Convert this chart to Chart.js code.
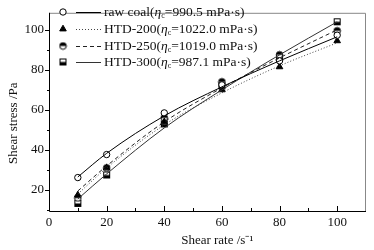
<!DOCTYPE html>
<html lang="en">
  <head>
    <meta charset="UTF-8" />
    <title>Shear stress vs shear rate</title>
    <script src="https://cdn.jsdelivr.net/npm/chart.js@4.4.0/dist/chart.umd.min.js"></script>
    <style>
      body { margin: 0; background: #fff; }
      .chart-container { position: relative; width: 374px; height: 250px; }
    </style>
  </head>
  <body>
    <div class="chart-container">
      <canvas id="myChart" width="374" height="250"></canvas>
    </div>
    <script>
      // measured points
      const shearRate = [10, 20, 40, 60, 80, 100];
      const rawCoal = [26.2, 37.7, 58.5, 72.5, 84.5, 97.3];
      const htd200 = [17.5, 31, 54, 70, 81.5, 94.5];
      const htd250 = [16, 31, 56, 74, 87.5, 99.5];
      const htd300 = [13.3, 27.5, 53, 72, 86, 104];

      // fitted curves
      const fitRaw = [26.5, 38.3, 57, 71.5, 84.5, 96.5];
      const fit200 = [18, 31, 52.5, 68.5, 82, 93.5];
      const fit250 = [19.5, 32, 54, 71, 86, 100];
      const fit300 = [15.5, 28, 51, 70, 87.5, 104];

      const xTicks = [0, 20, 40, 60, 80, 100];
      const yTicks = [20, 40, 60, 80, 100];

      const seriesNames = ["raw coal", "HTD-200", "HTD-250", "HTD-300"];
      const viscosity = ["990.5", "1022.0", "1019.0", "987.1"];

      const FONT = "Liberation Serif";
      const NB = "\u00A0";

      // half filled markers
      const makeMarker = (shape) => {
        const c = document.createElement("canvas");
        c.width = 9; c.height = 9;
        const g = c.getContext("2d");
        g.lineWidth = 1;
        g.strokeStyle = "#000";
        if (shape === "circle") {
          g.fillStyle = "#fff";
          g.beginPath(); g.arc(4.5, 4.5, 3.3, 0, Math.PI * 2); g.fill();
          g.fillStyle = "#000";
          g.beginPath(); g.arc(4.5, 4.5, 3.3, Math.PI, 0); g.fill();
          g.beginPath(); g.arc(4.5, 4.5, 3.3, 0, Math.PI * 2); g.stroke();
        } else {
          g.fillStyle = "#fff";
          g.fillRect(1.5, 1.5, 6, 6);
          g.fillStyle = "#000";
          g.fillRect(1.5, 4.5, 6, 3);
          g.strokeRect(1.5, 1.5, 6, 6);
        }
        return c;
      };
      const halfCircle = makeMarker("circle");
      const halfSquare = makeMarker("square");

      const toXY = (ys) => ys.map((y, i) => ({ x: shearRate[i], y: y }));

      const markerStyles = [
        { pointStyle: "circle", pointRadius: 3.2, backgroundColor: "#fff" },
        { pointStyle: "triangle", pointRadius: 3.8, backgroundColor: "#000" },
        { pointStyle: halfCircle, pointRadius: 4, backgroundColor: "#000" },
        { pointStyle: halfSquare, pointRadius: 4, backgroundColor: "#000" },
      ];
      const lineDash = [[], [1, 2], [4, 3], []];
      const lineColor = ["#000", "#444", "#222", "#333"];

      const points = [rawCoal, htd200, htd250, htd300];
      const fits = [fitRaw, fit200, fit250, fit300];

      const datasets = [];
      fits.forEach((f, i) => {
        datasets.push({
          label: seriesNames[i] + " fit",
          data: toXY(f),
          showLine: true,
          borderColor: lineColor[i],
          borderWidth: 1,
          borderDash: lineDash[i],
          pointRadius: 0,
          cubicInterpolationMode: "monotone",
        });
      });
      points.forEach((p, i) => {
        datasets.push({
          label: seriesNames[i],
          data: toXY(p),
          showLine: false,
          borderColor: "#000",
          borderWidth: 1,
          pointBorderWidth: 1,
          pointBackgroundColor: markerStyles[i].backgroundColor,
          pointStyle: markerStyles[i].pointStyle,
          pointRadius: markerStyles[i].pointRadius,
        });
      });

      // frame + inward/outward ticks
      const framePlugin = {
        id: "frame",
        afterDraw(chart) {
          const { ctx, chartArea: a, scales } = chart;
          ctx.save();
          ctx.strokeStyle = "#888";
          ctx.lineWidth = 1;
          ctx.beginPath();
          ctx.moveTo(a.left, a.top + 0.5);
          ctx.lineTo(a.right - 0.5, a.top + 0.5);
          ctx.lineTo(a.right - 0.5, a.bottom);
          ctx.stroke();
          ctx.strokeStyle = "#000";
          ctx.beginPath();
          ctx.moveTo(a.left + 0.5, a.top);
          ctx.lineTo(a.left + 0.5, a.bottom + 0.5);
          ctx.lineTo(a.right, a.bottom + 0.5);
          for (let v = 10; v <= 100; v += 10) {
            const px = Math.round(scales.x.getPixelForValue(v)) + 0.5;
            ctx.moveTo(px, a.bottom);
            ctx.lineTo(px, a.bottom - (v % 20 === 0 ? 5 : 3));
          }
          for (let v = 10; v <= 100; v += 10) {
            const py = Math.round(scales.y.getPixelForValue(v)) + 0.5;
            ctx.moveTo(a.left, py);
            ctx.lineTo(a.left - (v % 20 === 0 ? 4 : 2), py);
          }
          ctx.stroke();
          ctx.restore();
        },
      };

      // legend with subscript
      const legendPlugin = {
        id: "subLegend",
        afterDraw(chart) {
          const { ctx } = chart;
          const rows = [12, 29, 46, 62];
          ctx.save();
          ctx.textBaseline = "middle";
          rows.forEach((y, i) => {
            const ds = chart.data.datasets[4 + i];
            ctx.fillStyle = ds.pointBackgroundColor;
            ctx.strokeStyle = "#000";
            ctx.lineWidth = 1;
            Chart.helpers.drawPoint(ctx, {
              pointStyle: ds.pointStyle,
              radius: ds.pointRadius,
              borderWidth: 1,
            }, 63, y);

            ctx.beginPath();
            ctx.setLineDash(lineDash[i]);
            ctx.strokeStyle = lineColor[i];
            ctx.moveTo(76, y + 0.5);
            ctx.lineTo(101, y + 0.5);
            ctx.stroke();
            ctx.setLineDash([]);

            ctx.fillStyle = "#111";
            let x = 104;
            const put = (t, font, dy) => {
              ctx.font = font;
              ctx.fillText(t, x, y + dy);
              x += ctx.measureText(t).width;
            };
            put(seriesNames[i] + "(", "13.5px " + FONT, 0);
            put("\u03B7", "italic 13.5px " + FONT, 0);
            put("c", "8px " + FONT, 4);
            put("=" + viscosity[i] + " mPa\u00B7s)", "13.5px " + FONT, 0);
          });
          ctx.restore();
        },
      };

      new Chart(document.getElementById("myChart"), {
        type: "scatter",
        data: { datasets: datasets },
        options: {
          responsive: false,
          animation: false,
          devicePixelRatio: 1,
          layout: { padding: { top: 4, right: 8, left: 0, bottom: 0 } },
          plugins: { legend: { display: false }, tooltip: { enabled: false } },
          scales: {
            x: {
              type: "linear",
              min: 0,
              max: 110,
              afterFit: (s) => { s.height = 39; },
              afterBuildTicks: (s) => {
                s.ticks = xTicks.map((v) => ({ value: v }));
              },
              grid: { display: false, drawTicks: false },
              border: { display: false },
              ticks: {
                color: "#111",
                font: { family: FONT, size: 13 },
                padding: 4,
                maxRotation: 0,
              },
              title: {
                display: true,
                text: NB.repeat(6) + "Shear rate /s\u207B\u00B9",
                color: "#111",
                font: { family: FONT, size: 13 },
                padding: { top: 0, bottom: 2 },
              },
            },
            y: {
              type: "linear",
              min: 9.5,
              max: 108.5,
              afterFit: (s) => { s.width = 49; },
              afterBuildTicks: (s) => {
                s.ticks = yTicks.map((v) => ({ value: v }));
              },
              grid: { display: false, drawTicks: false },
              border: { display: false },
              ticks: {
                color: "#111",
                font: { family: FONT, size: 13 },
                padding: 5,
              },
              title: {
                display: true,
                text: "Shear stress /Pa" + NB.repeat(7),
                color: "#111",
                font: { family: FONT, size: 13 },
                padding: { top: 6, bottom: 0 },
              },
            },
          },
        },
        plugins: [framePlugin, legendPlugin],
      });
    </script>
  </body>
</html>
